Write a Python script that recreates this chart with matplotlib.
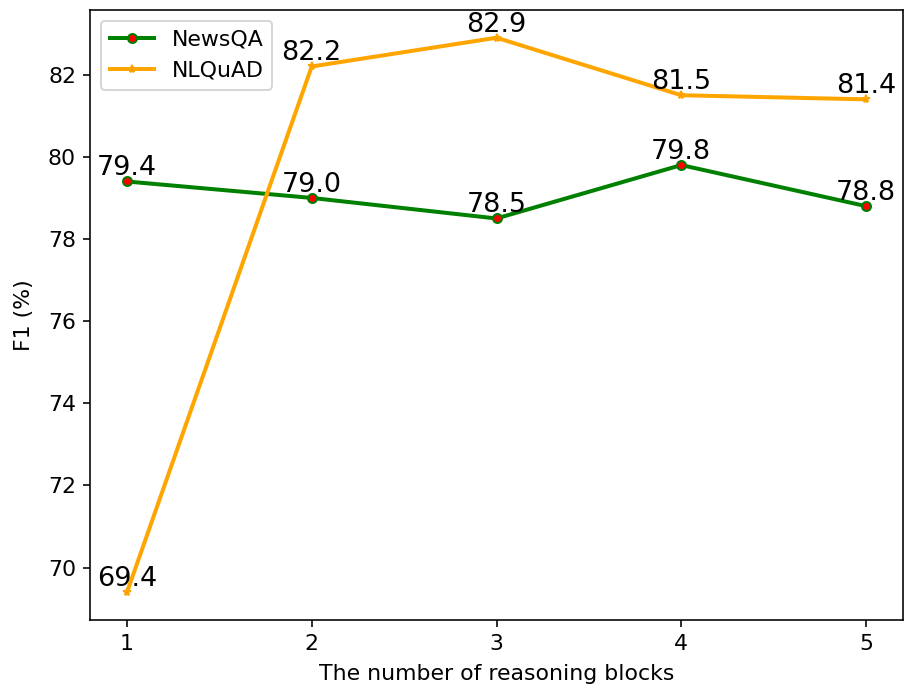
import numpy as np
import matplotlib.pyplot as plt

blocks = [1, 2, 3, 4, 5]
newsqa = [79.4, 79.0, 78.5, 79.8, 78.8]
nlquad = [69.4, 82.2, 82.9, 81.5, 81.4]

if __name__ == '__main__':
    fig = plt.figure(figsize=(905 / 144, 689 / 144), dpi=144)
    ax = fig.add_axes([90 / 905, 69 / 689, 813 / 905, 610 / 689])

    ax.plot(blocks, newsqa, color='green', linewidth=2, marker='o', markersize=4.5,
            markerfacecolor='red', markeredgecolor='green', label='NewsQA')
    ax.plot(blocks, nlquad, color='orange', linewidth=2, marker='*', markersize=4,
            markerfacecolor='slateblue', markeredgecolor='orange', label='NLQuAD')

    for x, y in zip(blocks, newsqa):
        ax.text(x, y, '%.1f' % y, ha='center', va='bottom', fontsize=13.5)
    for x, y in zip(blocks, nlquad):
        ax.text(x, y, '%.1f' % y, ha='center', va='bottom', fontsize=13.5)

    ax.set_xticks(blocks)
    ax.tick_params(labelsize=11)
    ax.set_xlabel('The number of reasoning blocks', fontsize=11, labelpad=5)
    ax.set_ylabel('F1 (%)', fontsize=11, labelpad=7)
    ax.legend(loc='upper left', fontsize=11)
    fig.savefig('out.png', dpi=144)
